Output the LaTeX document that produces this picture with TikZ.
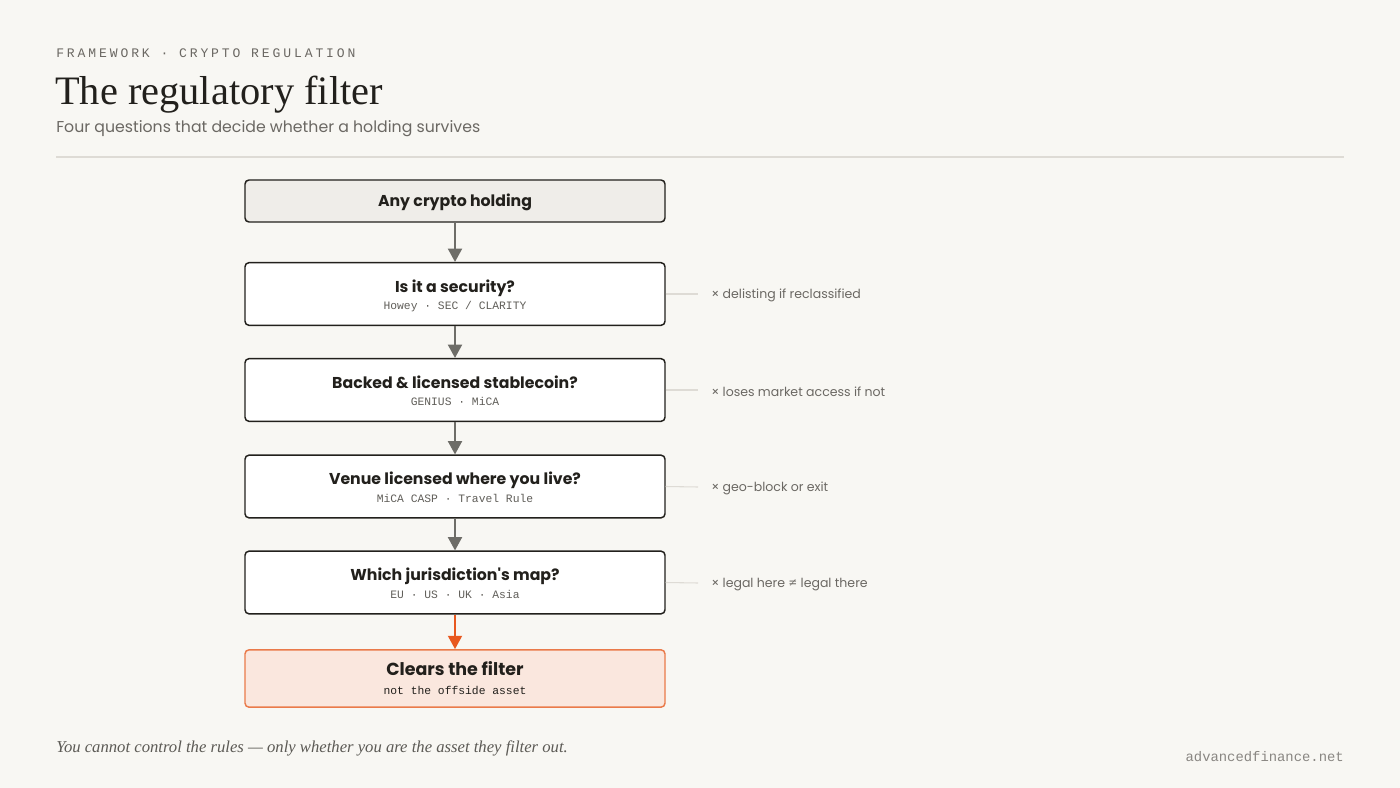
\documentclass[tikz,border=0pt]{standalone}
\usepackage{fontspec}
\setmainfont{Liberation Serif}
\newfontfamily\pop{Poppins}
\newfontfamily\mono{Liberation Mono}
\newfontfamily\monols[LetterSpace=22]{Liberation Mono}
\usetikzlibrary{arrows.meta}
\definecolor{bg}{HTML}{F8F7F3}
\definecolor{ink}{HTML}{22201C}
\definecolor{muted}{HTML}{6B6863}
\definecolor{rule}{HTML}{DEDBD5}
\definecolor{startfill}{HTML}{EFEDE9}
\definecolor{arrowgray}{HTML}{6E6D68}
\definecolor{accent}{HTML}{E8581F}
\definecolor{accentfill}{HTML}{FAE7DE}
\definecolor{accentborder}{HTML}{EA7A4A}
\tikzset{
  stepbox/.style={draw=ink, line width=1.1pt, rounded corners=3pt, fill=white, minimum width=315pt, inner sep=0pt},
  startbox/.style={stepbox, fill=startfill},
  endbox/.style={stepbox, fill=accentfill, draw=accentborder},
  ttl/.style={anchor=base, inner sep=0pt, text=ink, font=\pop\bfseries\fontsize{11.8pt}{14pt}\selectfont},
  sub/.style={anchor=base, inner sep=0pt, text=muted!90!black, font=\mono\fontsize{8.5pt}{10pt}\selectfont},
  flow/.style={draw=arrowgray, line width=1.5pt, -{Triangle[length=10pt,width=10.5pt]}},
  side/.style={draw=rule, line width=0.8pt},
  sidetxt/.style={anchor=west, inner sep=0pt, text=muted, font=\pop\fontsize{9.4pt}{12pt}\selectfont},
}
\begin{document}
\begin{tikzpicture}[x=0.75pt,y=-0.75pt]
\fill[bg] (0,0) rectangle (1400,788);
\useasboundingbox (0,0) rectangle (1400,788);
% header
\node[anchor=base west, inner sep=0pt, text=muted, font=\monols\fontsize{9.8pt}{12pt}\selectfont] (eyebrow) at (56,58) {FRAMEWORK · CRYPTO REGULATION};
\node[anchor=base west, inner sep=0pt, text=ink, font=\fontsize{30.3pt}{34pt}\selectfont] (title) at (55,105) {The regulatory filter};
\node[anchor=base west, inner sep=0pt, text=muted, font=\pop\fontsize{11.8pt}{15pt}\selectfont] (subtitle) at (56,133) {Four questions that decide whether a holding survives};
\coordinate (r1) at (56,157);
\coordinate (r2) at (1344,157);
\draw[rule, line width=0.8pt] (r1) -- (r2);
% boxes
\node[startbox, minimum height=31.5pt] (b1) at (455,201) {};
\node[stepbox, minimum height=47pt] (b2) at (455,294) {};
\node[stepbox, minimum height=47pt] (b3) at (455,390) {};
\node[stepbox, minimum height=47pt] (b4) at (455,486.5) {};
\node[stepbox, minimum height=47pt] (b5) at (455,582.5) {};
\node[endbox, minimum height=43pt] (b6) at (455,678.5) {};
% texts
\node[ttl] (t1) at (455,206.5) {Any crypto holding};
\node[ttl] (t2) at (455,292) {Is it a security?};
\node[sub] (s2) at (455,309.5) {Howey · SEC / CLARITY};
\node[ttl] (t3) at (455,388) {Backed \& licensed stablecoin?};
\node[sub] (s3) at (455,405.5) {GENIUS · MiCA};
\node[ttl] (t4) at (455,484.5) {Venue licensed where you live?};
\node[sub] (s4) at (455,502) {MiCA CASP · Travel Rule};
\node[ttl] (t5) at (455,580.5) {Which jurisdiction's map?};
\node[sub] (s5) at (455,598) {EU · US · UK · Asia};
\node[ttl, font=\pop\bfseries\fontsize{13.1pt}{16pt}\selectfont] (t6) at (455,675) {Clears the filter};
\node[sub, text=ink] (s6) at (455,694) {not the offside asset};
% arrows
\draw[flow] (b1.south) -- (b2.north);
\draw[flow] (b2.south) -- (b3.north);
\draw[flow] (b3.south) -- (b4.north);
\draw[flow] (b4.south) -- (b5.north);
\draw[flow, draw=accent, -{Triangle[length=10pt,width=10.5pt,fill=accent]}] (b5.south) -- (b6.north);
% side notes
\node[sidetxt] (n2) at (711,295.5) {× delisting if reclassified};
\node[sidetxt] (n3) at (711,391.5) {× loses market access if not};
\node[sidetxt] (n4) at (711,488.5) {× geo-block or exit};
\node[sidetxt] (n5) at (711,584.5) {× legal here ≠ legal there};
\coordinate (e2) at (698,294);
\coordinate (e3) at (698,390);
\coordinate (e4) at (698,487);
\coordinate (e5) at (698,583);
\draw[side] (b2.east) -- (e2);
\draw[side] (b3.east) -- (e3);
\draw[side] (b4.east) -- (e4);
\draw[side] (b5.east) -- (e5);
% footer
\node[anchor=base west, inner sep=0pt, text=muted!80!ink, font=\itshape\fontsize{12.5pt}{15pt}\selectfont] (quote) at (56,752) {You cannot control the rules — only whether you are the asset they filter out.};
\node[anchor=base east, inner sep=0pt, text=muted!80!white, font=\mono\fontsize{10.4pt}{12pt}\selectfont] (site) at (1344,761) {advancedfinance.net};
\end{tikzpicture}
\end{document}
